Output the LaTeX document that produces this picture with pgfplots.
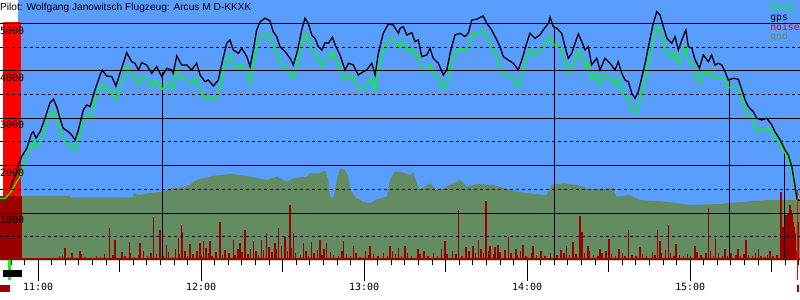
\documentclass[border=0pt]{standalone}
\usepackage{pgfplots}
\pgfplotsset{compat=1.18}
\usepackage{fontspec}
\setmainfont{Liberation Sans}
\newfontfamily\pixfont{DejaVu Sans Mono}
\definecolor{sky}{RGB}{89,157,255}
\definecolor{gndc}{RGB}{100,140,98}
\definecolor{noisec}{RGB}{155,0,0}
\definecolor{barogreen}{RGB}{0,255,0}
\begin{document}
\begin{tikzpicture}
\begin{axis}[
  at={(0,39.5bp)}, anchor=south west,
  scale only axis, width=800bp, height=260.5bp,
  xmin=-14.06, xmax=280.4, ymin=0, ymax=5495,
  clip=false, no markers,
  axis line style={draw=none},
  axis on top,
  tick align=outside,
  xtick pos=left, xticklabel pos=left,
  ytick pos=left, yticklabel pos=left,
  xtick={0,60,120,180,240},
  xticklabels={11:00,12:00,13:00,14:00,15:00},
  minor xtick={-10,-5,...,280},
  major tick length=21bp, minor tick length=5bp,
  extra x ticks={30,90,150,210,270},
  extra x tick labels={},
  extra x tick style={major tick length=12bp},
  tick style={black, line width=1bp},
  ytick={1000,2000,3000,4000,5000},
  yticklabels={1000,2000,3000,4000,5000},
  minor ytick={500,1500,2500,3500,4500},
  ytick style={draw=none},
  ymajorgrids, yminorgrids,
  major grid style={black, line width=1bp},
  minor grid style={black, line width=1bp, dash pattern=on 3bp off 3bp},
  ticklabel style={font={\fontsize{10}{10}\selectfont\pixfont}, text=black},
  xticklabel style={inner sep=0pt, yshift=-1bp},
  yticklabel style={anchor=north west, inner sep=0pt, xshift=21bp, yshift=-3bp},
]
% sky background
\addplot[fill=sky, draw=none, forget plot] coordinates {(-7.44,0) (-7.44,5495) (280.4,5495) (280.4,0)} -- cycle;
% motor noise band
\addplot[fill=red, draw=none, forget plot] coordinates {(-13.07,0) (-13.07,5032) (-6.44,5032) (-6.44,0)} -- cycle;
% ground
\addplot[fill=gndc, draw=none, forget plot] coordinates {
(-14.06,1361) (11.7,1361) (11.8,1333) (35.0,1333) (35.1,1418) (37.5,1382) (41.2,1430) (46.0,1451) (49.1,1523) (53.4,1544) (55.9,1593) (57.1,1662) (58.3,1698) (60.8,1734) (64.5,1783) (70.6,1825) (74.3,1804) (79.2,1755) (84.1,1698) (87.8,1768) (91.5,1662) (93.9,1734) (98.8,1768) (100.0,1840) (103.7,1840) (105.6,1909) (106.8,1698) (107.4,1346) (108.6,1312) (109.9,1698) (111.1,1945) (112.9,1909) (114.2,1768) (114.8,1487) (117.2,1312) (119.7,1240) (122.1,1207) (124.6,1291) (128.3,1346) (129.5,1698) (131.3,1873) (133.2,1873) (136.9,1804) (138.1,1861) (139.3,1629) (140.5,1487) (144.2,1629) (146.7,1487) (149.1,1523) (155.3,1698) (157.7,1557) (161.4,1614) (167.5,1593) (173.7,1487) (179.8,1418) (187.2,1382) (189.0,1593) (193.3,1629) (198.2,1593) (203.1,1502) (211.7,1523) (212.9,1346) (217.8,1382) (221.5,1276) (231.4,1240) (239.9,1171) (251.0,1192) (255.9,1219) (268.2,1276) (280.4,1276)
} \closedcycle;
% noise under ground at start
\addplot[fill=noisec, draw=none, forget plot] coordinates {(-14.06,0) (-14.06,1361) (-6.0,1361) (-6.0,0)} -- cycle;
\addplot[fill=noisec, draw=none, forget plot] coordinates {(-6.0,0) (-6.0,45) (280.4,45) (280.4,0)} -- cycle;
% noise bars
\addplot[ycomb, noisec, line width=1.4bp, forget plot] coordinates {
(9.87,257) (15.39,200) (26.17,692) (28.27,432) (33.53,397) (37.47,360) (42.37,924) (44.83,643) (47.30,320) (51.57,468) (52.82,749) (53.19,600) (55.88,350) (59.56,363) (60.77,420) (63.24,420) (66.92,819) (71.82,440) (74.28,360) (76.12,643) (79.18,420) (82.27,440) (84.11,572) (87.17,360) (88.38,679) (90.85,500) (92.69,1171) (93.90,572) (97.58,360) (100.67,400) (103.73,440) (106.20,360) (112.31,420) (115.99,300) (122.14,300) (129.50,300) (132.55,257)
(135.0,300) (139.8,250) (149.7,411) (154.6,1065) (157.5,280) (162.0,440) (164.8,1255) (166.3,300) (169.2,320) (173.0,502) (175.9,250) (178.5,320) (182.1,300) (194.5,300) (196.8,400) (199.4,939) (200.1,600) (202.4,300) (206.8,250) (210.1,460) (213.8,250) (217.2,643) (221.5,280) (227.9,640) (228.9,420) (231.9,749) (234.8,340) (241.8,300) (246.7,1101) (249.2,460) (252.8,250) (257.6,250) (260.5,430) (265.1,240) (269.4,200)
(273.4,1452) (273.8,502) (274.2,713) (274.5,600) (274.9,713) (275.3,960) (275.6,850) (276.0,996) (276.4,900) (276.7,1171) (277.1,1065) (277.5,1000) (277.8,819) (278.2,700) (278.6,574) (278.9,200) (279.9,819)
(6.5,60) (7.8,90) (9.0,120) (11.2,70) (12.5,150) (13.8,60) (16.0,130) (17.2,80) (19.0,60) (21.5,100) (23.0,70) (24.5,140) (27.5,110) (29.5,60) (30.8,180) (32.0,90) (34.0,150) (35.5,80) (37.0,120) (38.8,200) (40.3,90) (41.5,160) (43.5,130) (45.0,220) (46.2,100) (48.0,170) (49.5,80) (50.5,250) (52.0,140) (54.0,200) (55.0,90) (57.0,140) (58.5,210) (60.0,120) (61.8,260) (62.6,150) (64.0,90) (65.5,180) (67.8,120) (68.8,230) (70.2,160) (72.5,120) (73.5,250) (75.0,180) (77.2,140) (78.2,250) (80.2,200) (81.0,120) (83.0,220) (85.0,280) (86.0,170) (87.8,250) (89.5,300) (91.8,200) (93.0,260) (94.8,160) (96.5,120) (98.5,200) (99.5,90) (101.5,150) (102.8,220) (104.5,120) (105.2,250) (107.5,180) (108.8,120) (110.5,90) (111.8,200) (113.5,130) (115.0,100) (117.0,160) (118.5,80) (120.5,190) (121.5,110) (123.5,140) (125.0,90) (127.0,160) (128.5,100) (130.5,200) (131.5,130) (133.8,90) (136.0,150) (137.5,100) (140.5,130) (142.0,200) (143.5,100) (145.5,160) (147.0,90) (148.5,250) (150.5,130) (152.5,200) (153.8,140) (156.0,90) (158.5,200) (160.0,300) (161.0,150) (163.0,250) (164.0,160) (165.8,200) (167.5,130) (168.2,280) (170.0,180) (171.8,220) (174.0,150) (176.5,120) (177.5,200) (179.5,90) (181.5,150) (183.5,120) (185.0,200) (186.5,90) (188.5,150) (191.0,120) (192.5,220) (193.5,160) (195.5,120) (198.0,140) (201.0,150) (203.0,200) (204.5,120) (206.0,90) (207.5,160) (209.0,200) (211.0,130) (212.5,90) (215.0,160) (216.0,100) (218.5,120) (220.0,90) (222.5,140) (224.0,100) (226.0,180) (227.0,120) (229.5,160) (230.8,220) (232.8,150) (234.0,100) (236.0,120) (237.5,90) (239.0,140) (240.0,100) (242.5,180) (244.0,120) (245.8,150) (247.5,200) (248.5,100) (250.5,150) (251.8,90) (253.8,100) (255.0,160) (256.8,120) (258.5,100) (259.8,140) (261.5,110) (263.0,90) (264.0,150) (266.0,100) (267.5,80) (268.5,120) (270.5,90) (272.0,110)
};
% turnpoint markers
\addplot[black, line width=1bp, forget plot] coordinates {(45.7,3984) (45.7,0)};
\addplot[black, line width=1bp, forget plot] coordinates {(190.0,4926) (190.0,0)};
\addplot[black, line width=1bp, forget plot] coordinates {(254.4,3808) (254.4,0)};
\addplot[black, line width=1bp, forget plot] coordinates {(274.6,2268) (274.6,0)};
% baro
\addplot[barogreen, line width=1.3bp] coordinates {
(-14.06,1312) (-12.2,1312) (-11.6,1346) (-10.4,1418) (-9.2,1523) (-7.9,1662) (-6.7,1768) (-6.1,1900) (-4.2,2197) (-2.4,2440) (-1.8,2520) (-0.8,2400) (0.7,2500)
(2.5,2780) (4.3,3100) (5.6,3170) (6.8,3030) (8.0,2740) (9.2,2570) (11.1,2450) (12.3,2420) (13.6,2320) (14.8,2530) (16.6,2950) (17.9,3060) (19.1,2980) (20.9,3380) (22.8,3650)
(23.6,3740) (25.2,3600) (27.1,3590) (28.6,3400) (30.1,3650) (31.3,3870) (32.6,4090) (34.4,3900) (35.6,3850) (36.9,3720) (38.1,3870) (39.9,3840) (41.8,3660) (43.6,3800) (45.5,3600) (47.3,3760) (49.1,3700) (49.7,3630) (51.0,4030) (52.8,3830) (54.7,3830) (56.5,3720) (58.3,3850) (59.6,3600) (61.4,3420) (62.6,3480) (64.5,3380) (66.3,3500) (67.6,3830) (69.4,4250) (70.6,4340) (71.8,4120) (73.7,4050) (74.9,4150) (76.8,3980) (78.0,3740) (79.2,4110) (80.4,4530) (81.7,4720) (83.5,4790) (85.3,4740) (86.5,4500) (87.8,4400) (89.0,4180) (90.9,4090) (92.7,3950) (93.9,3850) (95.5,4150) (97.0,4570) (98.2,4790) (99.4,4690) (100.7,4440) (101.9,4380) (103.1,4200) (104.4,4100) (105.6,4280) (106.8,4270) (108.3,4400) (109.3,4240) (111.1,4050) (112.9,3800) (114.2,3900) (116.0,3860) (117.8,3620) (119.7,3600) (120.9,3700) (122.8,3850) (124.0,3600) (125.2,4050) (127.0,4440) (128.9,4660) (130.7,4680) (132.6,4480) (133.2,4580) (134.4,4600) (135.7,4430) (137.5,4480) (138.7,4300) (139.9,4330) (141.2,3980) (143.0,3990) (144.2,4150) (145.4,3950) (147.3,3850) (149.1,3620) (150.4,3700) (151.6,4050) (153.4,4400) (155.3,4480) (157.1,4400) (158.3,4470) (159.6,4760) (161.4,4770) (163.8,4860) (165.1,4680) (166.9,4530) (168.8,4300) (170.0,4090) (171.2,3950) (173.0,3900) (174.9,3830) (176.7,3650) (178.0,3900) (179.8,4260) (181.0,4450) (182.9,4350) (184.7,4420) (185.9,4520) (187.8,4650) (188.4,4720) (189.6,4560) (190.9,4560) (192.7,4450) (193.9,4150) (195.1,3950) (196.4,4030) (197.6,4250) (198.8,4420) (200.1,4280) (201.3,4100) (202.5,4170) (203.7,3800) (205.6,3940) (206.8,3700) (208.6,3930) (210.5,3840) (212.3,3700) (213.5,3860) (214.8,3620) (216.0,3480) (217.2,3450) (218.5,3220) (219.7,3100) (220.9,3250) (222.2,3560) (223.4,3840) (224.6,4190) (226.4,4660) (227.7,4920) (228.9,4860) (230.1,4620) (231.4,4380) (233.2,4270) (234.4,4400) (235.6,4130) (236.9,4330) (238.4,4520) (239.3,4200) (240.6,4170) (241.8,3920) (243.4,3760) (244.8,4030) (246.7,3900) (247.9,4030) (249.1,3830) (250.3,3860) (251.6,3840) (252.8,3800) (254.0,3640) (255.9,3660) (257.7,3640) (259.0,3400) (260.2,3200) (261.4,3060) (263.2,2950) (264.5,2720) (266.3,2750) (268.2,2800) (270.0,2730) (271.2,2620) (273.1,2440) (274.9,2260) (276.1,2140) (277.4,1880) (278.6,1480) (279.2,1250) (280.4,1241)
};
% gps
\addplot[black, line width=1.3bp] coordinates {
(-10.4,1508) (-9.2,1698) (-7.9,1867) (-7.3,2015) (-6.1,2190) (-4.2,2367) (-2.4,2684) (-1.8,2717) (-0.8,2584) (0.7,2717) (2.5,3000) (4.3,3323) (5.6,3401) (6.8,3245) (8.0,3000) (9.2,2789) (11.1,2717) (12.3,2648) (13.6,2542) (14.8,2753) (16.6,3175) (17.9,3281) (19.1,3245) (20.9,3597) (22.8,3914) (23.6,4019) (25.2,3892) (27.1,3878) (28.6,3681) (30.1,3949) (31.3,4160) (32.6,4384) (34.4,4194) (35.6,4160) (36.9,4019) (38.1,4173) (39.9,4125) (41.8,3949) (43.6,4089) (45.5,3878) (47.3,4055) (49.1,4019) (49.7,3949) (51.0,4314) (52.8,4125) (54.7,4125) (56.5,4019) (58.3,4160) (59.6,3914) (61.4,3772) (62.6,3808) (64.5,3681) (66.3,3808) (67.6,4160) (69.4,4582) (70.6,4652) (71.8,4441) (73.7,4371) (74.9,4477) (76.8,4300) (78.0,4089) (79.2,4441) (80.4,4863) (81.7,5038) (83.5,5110) (85.3,5059) (86.5,4827) (87.8,4722) (89.0,4511) (90.9,4405) (92.7,4266) (93.9,4125) (95.5,4441) (97.0,4863) (98.2,5110) (99.4,5004) (100.7,4757) (101.9,4688) (103.1,4511) (104.4,4441) (105.6,4595) (106.8,4582) (108.3,4709) (109.3,4547) (111.1,4336) (112.9,4019) (114.2,4160) (116.0,4125) (117.8,3914) (119.7,3984) (120.9,4019) (122.8,4160) (124.0,3914) (125.2,4371) (127.0,4793) (128.9,4990) (130.7,4968) (132.6,4793) (133.2,4899) (134.4,4932) (135.7,4757) (137.5,4806) (138.7,4616) (139.9,4652) (141.2,4300) (143.0,4336) (144.2,4477) (145.4,4266) (147.3,4160) (149.1,3914) (150.4,4019) (151.6,4371) (153.4,4757) (155.3,4793) (157.1,4722) (158.3,4793) (159.6,5074) (161.4,5089) (163.8,5158) (165.1,5004) (166.9,4863) (168.8,4652) (170.0,4511) (171.2,4300) (173.0,4230) (174.9,4160) (176.7,4019) (178.0,4230) (179.8,4582) (181.0,4793) (182.9,4688) (184.7,4757) (185.9,4863) (187.8,5004) (188.4,5131) (189.6,4932) (190.9,4899) (192.7,4793) (193.9,4511) (195.1,4266) (196.4,4371) (197.6,4582) (198.8,4779) (200.1,4616) (201.3,4441) (202.5,4511) (203.7,4125) (205.6,4266) (206.8,4019) (208.6,4266) (210.5,4160) (212.3,4019) (213.5,4194) (214.8,3949) (216.0,3808) (217.2,3772) (218.5,3527) (219.7,3422) (220.9,3561) (222.2,3878) (223.4,4160) (224.6,4511) (226.4,5004) (227.7,5249) (228.9,5179) (230.1,4932) (231.4,4688) (233.2,4582) (234.4,4722) (235.6,4441) (236.9,4652) (238.4,4863) (239.3,4511) (240.6,4477) (241.8,4230) (243.4,4055) (244.8,4336) (246.7,4194) (247.9,4336) (249.1,4125) (250.3,4160) (251.6,4125) (252.8,3984) (254.0,3808) (255.9,3844) (257.7,3823) (259.0,3597) (260.2,3386) (261.4,3245) (263.2,3139) (264.5,3000) (266.3,2964) (268.2,3000) (270.0,2859) (271.2,2717) (273.1,2542) (274.9,2331) (276.1,2226) (277.4,1979) (278.6,1557) (279.3,1290) (280.4,1260)
};
% cursor and widgets below the axis
\addplot[red, line width=1.3bp, forget plot] coordinates {(279.6,1487) (279.6,-411)};
\addplot[noisec, line width=1.5bp, forget plot] coordinates {(279.7,-517) (279.7,-665)};
\addplot[barogreen, line width=3bp, forget plot] coordinates {(-10.45,10) (-10.45,-411)};
\addplot[fill=black, draw=none, forget plot] coordinates {(-13.07,-200) (-13.07,-354) (-5.96,-354) (-5.96,-200)} -- cycle;
\addplot[fill=noisec, draw=none, forget plot] coordinates {(-14.06,-517) (-14.06,-665) (-10.38,-665) (-10.38,-517)} -- cycle;
% title and legend
\node[anchor=north west, inner sep=0pt, font=\fontsize{10.2}{12}\selectfont, text=black] at (rel axis cs:0,1) [yshift=-2.5bp] {Pilot: Wolfgang Janowitsch Flugzeug: Arcus M D-KKXK};
\node[anchor=north west, inner sep=0pt, align=left, font=\fontsize{9.8}{9.7}\selectfont\pixfont] at (axis cs:269.4,5427) {\textcolor{barogreen}{baro}\\gps\\\textcolor{red}{noise}\\\textcolor{gndc}{gnd}};
\end{axis}
\pgfresetboundingbox
\path[use as bounding box] (0,0) rectangle (800bp,300bp);
\end{tikzpicture}
\end{document}
